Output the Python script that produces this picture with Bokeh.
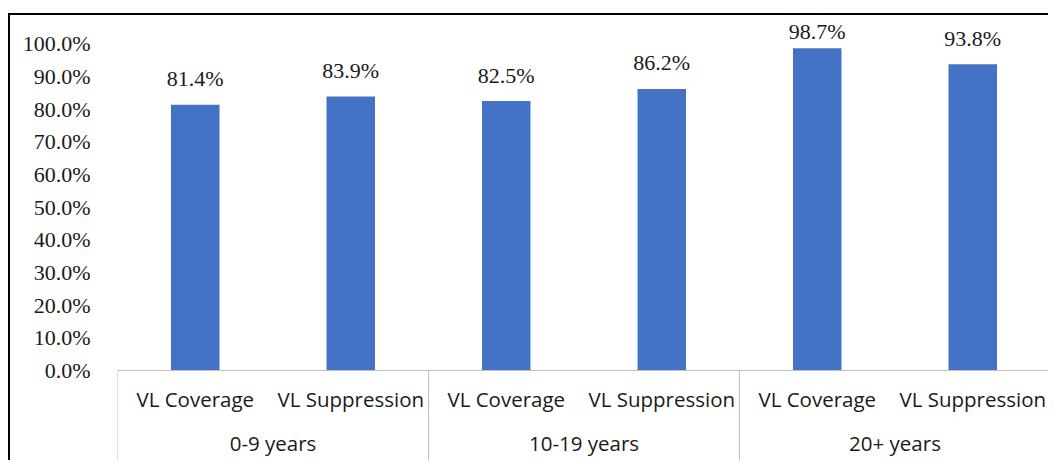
from bokeh.plotting import figure
from bokeh.models import FactorRange, Range1d, FixedTicker, PrintfTickFormatter, Span
from bokeh.core.properties import value
from bokeh.embed import file_html
from bokeh.resources import INLINE

# ---- data ----
groups = ["0-9 years", "10-19 years", "20+ years"]
measures = ["VL Coverage", "VL Suppression"]
values = [81.4, 83.9, 82.5, 86.2, 98.7, 93.8]
y_ticks = [0, 10, 20, 30, 40, 50, 60, 70, 80, 90, 100]

factors = [(g, m) for g in groups for m in measures]
sub_labels = [m for g, m in factors]
value_labels = ["%.1f%%" % v for v in values]

Y_MIN, Y_MAX = -28.17, 108.7
SERIF = value("Liberation Serif")
SANS = value("Open Sans")
TXT = "#1a1a1a"
GRID = "#bfbfbf"
TEXT_SHIFT = -9

p = figure(
    x_range=FactorRange(*factors, range_padding=0, group_padding=0, factor_padding=0),
    y_range=Range1d(Y_MIN, Y_MAX),
    width=1040, height=447,
    output_backend="svg", toolbar_location=None,
    x_axis_location=None,
    min_border_left=107, min_border_right=0, min_border_top=0, min_border_bottom=0,
)
p.styles = {"border-top": "2px solid black", "border-left": "2px solid black",
            "margin-top": "13px", "margin-left": "8px"}
p.outline_line_color = None
p.grid.visible = False
p.background_fill_color = "white"
p.border_fill_color = "white"

# y axis
ax = p.yaxis[0]
ax.ticker = FixedTicker(ticks=y_ticks)
ax.formatter = PrintfTickFormatter(format="%.1f%%")
ax.axis_line_color = None
ax.major_tick_line_color = None
ax.minor_tick_line_color = None
ax.major_label_standoff = 21
ax.major_label_text_font = "Liberation Serif"
ax.major_label_text_font_size = "22px"
ax.major_label_text_color = TXT

# bars
p.vbar(x=factors, top=values, bottom=0, width=0.312, fill_color="#4472C4", line_color=None)

# value labels (kept inside the chart area like Excel does)
label_y = [min(v + 5.2, 101.1) for v in values]
p.text(x=factors, y=label_y, text=value_labels, text_align="center", text_baseline="alphabetic",
       y_offset=TEXT_SHIFT, text_font=SERIF, text_font_size="22px", text_color=TXT)

# category axis: baseline, separators, labels
p.add_layout(Span(location=0, dimension="width", line_color=GRID, line_width=1))
seps = [(g, measures[0], -0.5) for g in groups] + [(groups[-1], measures[-1], 0.5)]
p.segment(x0=seps, y0=[0] * len(seps), x1=seps, y1=[Y_MIN] * len(seps), line_color=GRID, line_width=1)
p.text(x=factors, y=[-11.4] * len(factors), text=sub_labels, text_align="center", text_baseline="alphabetic",
       y_offset=TEXT_SHIFT, text_font=SANS, text_font_size="20.5px", text_color=TXT)
p.text(x=groups, y=[-25.1] * len(groups), text=groups, text_align="center", text_baseline="alphabetic",
       y_offset=TEXT_SHIFT, text_font=SANS, text_font_size="20.5px", text_color=TXT)

open("out.html", "w").write(file_html(p, INLINE))
